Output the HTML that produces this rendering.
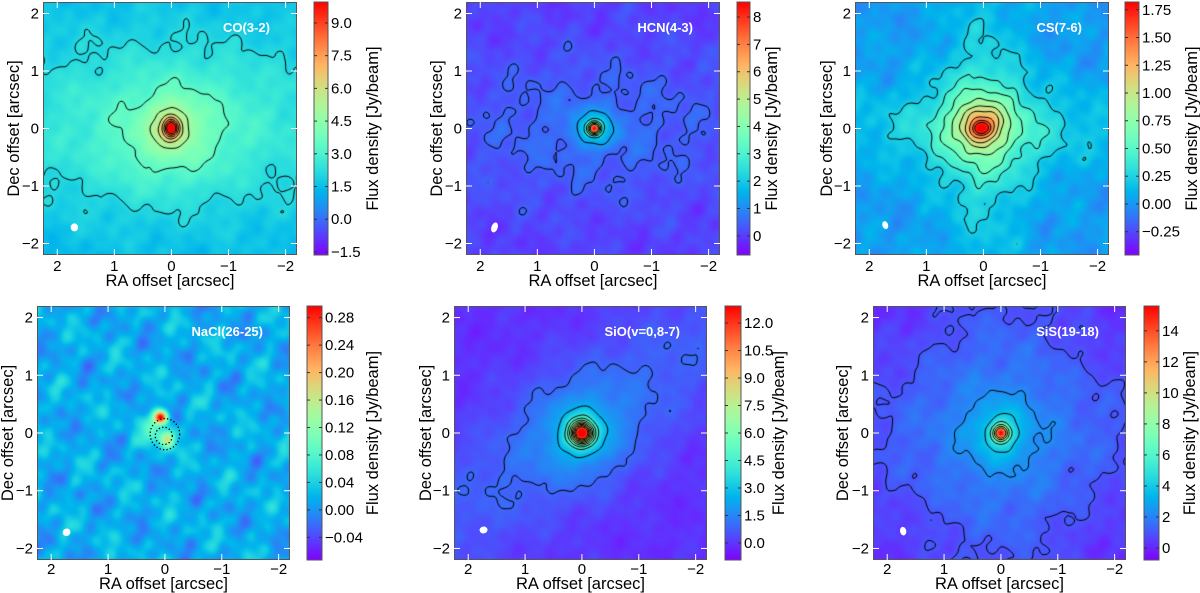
<!DOCTYPE html>
<html><head><meta charset="utf-8">
<style>
html,body{margin:0;padding:0;background:#fff;}
#wrap{position:relative;width:1200px;height:593px;overflow:hidden;font-family:"Liberation Sans",sans-serif;}
canvas{position:absolute;}
svg{position:absolute;left:0;top:0;}
</style></head>
<body>
<div id="wrap">
<svg id="ov" width="1200" height="593"></svg>
</div>
<script>
// ---- data ----
const panelTitles = ["CO(3-2)","HCN(4-3)","CS(7-6)","NaCl(26-25)","SiO(v=0,8-7)","SiS(19-18)"];
const cbarMin = [-1.64,-0.7,-0.46,-0.073,-0.93,-0.77];
const cbarMax = [9.96,8.55,1.82,0.297,12.93,15.6];
const cbarTicks = [
 [-1.5,0,1.5,3,4.5,6,7.5,9],
 [0,1,2,3,4,5,6,7,8],
 [-0.25,0,0.25,0.5,0.75,1,1.25,1.5,1.75],
 [-0.04,0,0.04,0.08,0.12,0.16,0.2,0.24,0.28],
 [0,1.5,3,4.5,6,7.5,9,10.5,12],
 [0,2,4,6,8,10,12,14]];
const cbarTickLabels = [
 ["−1.5","0.0","1.5","3.0","4.5","6.0","7.5","9.0"],
 ["0","1","2","3","4","5","6","7","8"],
 ["−0.25","0.00","0.25","0.50","0.75","1.00","1.25","1.50","1.75"],
 ["−0.04","0.00","0.04","0.08","0.12","0.16","0.20","0.24","0.28"],
 ["0.0","1.5","3.0","4.5","6.0","7.5","9.0","10.5","12.0"],
 ["0","2","4","6","8","10","12","14"]];
const bgLevel = [1.3,0.0,0.02,0.015,-0.1,-0.1];
const noiseAmp = [0.35,0.3,0.1,0.035,0.3,0.45];
// components: [xArcsec, yArcsec, amplitude, sigmaX, sigmaY, rotationDeg]
const comps = [
 [[0,0.1,1.6,2.6,1.15,0],[0,-0.1,1.5,0.7,0.6,-20],[0,0.05,2.0,0.25,0.28,0],[0,0,4.5,0.08,0.1,0]],
 [[0,0,0.6,1.9,0.95,0],[0,0,1.6,0.26,0.22,0],[0,0,6.2,0.07,0.07,0]],
 [[0,0,0.2,0.5,2.4,0],[0,0,0.2,2.4,0.5,0],[0,0,0.35,0.7,0.7,0],[0.05,0.05,0.7,0.28,0.26,0],[0.05,0,0.5,0.11,0.09,0]],
 [[0.07,0.27,0.26,0.08,0.08,0],[-0.05,-0.12,0.12,0.09,0.1,0],[0.15,0.05,0.06,0.2,0.2,0]],
 [[0.05,0.1,1.1,3.2,0.8,-35],[0,0,1.3,0.6,0.6,0],[0,0,2.8,0.25,0.25,0],[0,0,9,0.12,0.12,0]],
 [[0,0,1.2,1.1,3.5,0],[0,0,1.2,3.5,1.1,0],[0,0,2.5,0.32,0.32,0],[0,0,11,0.09,0.09,0]]];
const contourLevels = [
 [2.1,3.4,5,5.8,6.6,7.4,8.2,9],
 [0.45,1.3,2.2,3.1,4,5,6],
 [0.22,0.38,0.55,0.75,0.95,1.1,1.3,1.5,1.65],
 [],
 [0.9,2.5,4,5,6,7,8,9,10,11],
 [1.0,2.3,3.8,5.5,7.5,9.5,11.5]];
// NaCl dotted contours: [xArcsec,yArcsec,radiusX,radiusY]
const dottedRings = [[0.0,-0.02,0.26,0.27],[0.02,-0.05,0.15,0.15]];
const beam = [[1.7,-1.72,0.065,0.07,0],[1.75,-1.72,0.055,0.09,20],[1.72,-1.68,0.05,0.07,-20],[1.73,-1.72,0.07,0.065,-40],[1.73,-1.68,0.07,0.06,-10],[1.72,-1.7,0.055,0.075,-10]];
const xTicks=[2,1,0,-1,-2], yTicks=[2,1,0,-1,-2];
const yTickLabels=["2","1","0","−1","−2"], xTickLabels=["2","1","0","−1","−2"];
// ---- layout ----
const L = [
 {px:43,py:2,pw:254,ph:253,cx:314,cw:14,yl:14,cl:373,row:0},
 {px:466,py:2,pw:254,ph:253,cx:737,cw:13,yl:437,cl:772,row:0},
 {px:855,py:2,pw:254,ph:253,cx:1125,cw:14,yl:827,cl:1192,row:0},
 {px:37,py:306,pw:253,ph:254,cx:307,cw:15,yl:8,cl:373,row:1},
 {px:454,py:306,pw:253,ph:254,cx:725,cw:16,yl:426,cl:779,row:1},
 {px:873,py:306,pw:253,ph:254,cx:1144,cw:15,yl:843,cl:1190,row:1}];
const xDom=[2.25,-2.2], yDom=[-2.2,2.2];
function rainbow(t){t=Math.max(0,Math.min(1,t));
 const r=Math.min(1,Math.abs(2*t-0.5)), g=Math.sin(Math.PI*t), b=Math.cos(Math.PI*t/2);
 return [Math.round(r*255),Math.round(g*255),Math.round(b*255)];}
const NS="http://www.w3.org/2000/svg", ov=document.getElementById('ov'), wrap=document.getElementById('wrap');
function mk(tag,attrs,parent){const e=document.createElementNS(NS,tag);for(const k in attrs)e.setAttribute(k,attrs[k]);(parent||ov).appendChild(e);return e;}
function noise(x,y,k){return Math.sin(7.3*x+2.1*y+k)*0.3+Math.sin(3.1*x-5.7*y+1.3*k)*0.3+Math.sin(11.7*x+9.3*y+0.7*k)*0.2+Math.sin(-13.1*x+15.9*y+2*k)*0.15+Math.sin(21*x+4*y+k*3)*0.12+Math.sin(5.3*x+17.2*y+k*4.1)*0.12+Math.sin(-9.4*x-6.6*y+k*2.3)*0.15;}
function field(i,x,y){let v=bgLevel[i]+noiseAmp[i]*noise(x,y,i*1.7);
 for(const c of comps[i]){const a=c[5]*Math.PI/180,dx=x-c[0],dy=y-c[1];
  const u=dx*Math.cos(a)+dy*Math.sin(a), w=-dx*Math.sin(a)+dy*Math.cos(a);
  v+=c[2]*Math.exp(-0.5*(u*u/(c[3]*c[3])+w*w/(c[4]*c[4])));}
 return v;}
L.forEach((p,i)=>{
 const sx=v=>p.px+(v-xDom[0])/(xDom[1]-xDom[0])*p.pw;
 const sy=v=>p.py+(yDom[1]-v)/(yDom[1]-yDom[0])*p.ph;
 const ax=px=>xDom[0]+(px)/p.pw*(xDom[1]-xDom[0]);
 const ay=py=>yDom[1]-(py)/p.ph*(yDom[1]-yDom[0]);
 const cv=document.createElement('canvas');cv.width=p.pw;cv.height=p.ph;
 cv.style.left=p.px+'px';cv.style.top=p.py+'px';
 
 
 wrap.insertBefore(cv,ov);
 const ctx=cv.getContext('2d'), img=ctx.createImageData(p.pw,p.ph);
 const mn=cbarMin[i],mx=cbarMax[i];
 for(let yy=0;yy<p.ph;yy++)for(let xx=0;xx<p.pw;xx++){
  const v=field(i,ax(xx+0.5),ay(yy+0.5)), c=rainbow((v-mn)/(mx-mn)), o=(yy*p.pw+xx)*4;
  img.data[o]=c[0];img.data[o+1]=c[1];img.data[o+2]=c[2];img.data[o+3]=255;}
 ctx.putImageData(img,0,0);
 const st=2,nx=Math.ceil(p.pw/st)+1,ny=Math.ceil(p.ph/st)+1,G=[];
 for(let j=0;j<ny;j++){G[j]=[];for(let k=0;k<nx;k++)G[j][k]=field(i,ax(k*st),ay(j*st));}
 ctx.strokeStyle='#000';ctx.lineWidth=1;
 contourLevels[i].forEach(lv=>{ctx.beginPath();
  for(let j=0;j<ny-1;j++)for(let k=0;k<nx-1;k++){
   const a=G[j][k],b=G[j][k+1],c=G[j+1][k+1],d=G[j+1][k];const pts=[];
   const ed=(v1,v2,x1,y1,x2,y2)=>{if((v1-lv)*(v2-lv)<0){const t=(lv-v1)/(v2-v1);pts.push([x1+(x2-x1)*t,y1+(y2-y1)*t]);}};
   const X=k*st,Y=j*st;
   ed(a,b,X,Y,X+st,Y);ed(b,c,X+st,Y,X+st,Y+st);ed(c,d,X+st,Y+st,X,Y+st);ed(d,a,X,Y+st,X,Y);
   for(let q=0;q+1<pts.length;q+=2){ctx.moveTo(pts[q][0],pts[q][1]);ctx.lineTo(pts[q+1][0],pts[q+1][1]);}
  }ctx.stroke();});
 const g=mk('g',{});
 if(i===3){dottedRings.forEach(r=>{const e=mk('ellipse',{cx:sx(r[0]),cy:sy(r[1]),rx:r[2]*p.pw/4.45,ry:r[3]*p.ph/4.4,fill:'none',stroke:'#000','stroke-width':1.3,'stroke-dasharray':'1.3 2.2'},g);
  });}
 const b=beam[i];const be=mk('ellipse',{cx:sx(b[0]),cy:sy(b[1]),rx:b[2]*p.pw/4.45,ry:b[3]*p.ph/4.4,fill:'#fff',transform:`rotate(${b[4]} ${sx(b[0])} ${sy(b[1])})`},g);
 
 const fr=mk('rect',{x:p.px+0.5,y:p.py+0.5,width:p.pw-1,height:p.ph-1,fill:'none',stroke:'#555','stroke-width':1},g);
 
 const tickY=p.row?p.py+p.ph+14:p.py+p.ph+16;
 xTicks.forEach((t,k)=>{const X=sx(t);
  mk('line',{x1:X,y1:p.py,x2:X,y2:p.py+6,stroke:'#fff','stroke-width':1},g);
  mk('line',{x1:X,y1:p.py+p.ph,x2:X,y2:p.py+p.ph-6,stroke:'#fff','stroke-width':1},g);
  const tx=mk('text',{x:X,y:tickY,'font-size':15,'text-anchor':'middle',fill:'#000'},g);tx.textContent=xTickLabels[k];
  });
 yTicks.forEach((t,k)=>{const Y=sy(t);
  mk('line',{x1:p.px,y1:Y,x2:p.px+6,y2:Y,stroke:'#fff','stroke-width':1},g);
  mk('line',{x1:p.px+p.pw,y1:Y,x2:p.px+p.pw-6,y2:Y,stroke:'#fff','stroke-width':1},g);
  const tx=mk('text',{x:p.px-4,y:Y+5,'font-size':15,'text-anchor':'end',fill:'#000'},g);tx.textContent=yTickLabels[k];
  });
 const xl=mk('text',{x:p.px+p.pw/2,y:p.row?589:286,'font-size':16.5,'text-anchor':'middle'},g);xl.textContent='RA offset [arcsec]';
 
 const yc=p.py+p.ph/2;
 const yl=mk('text',{x:p.yl,y:yc,'font-size':16.5,'text-anchor':'middle','dominant-baseline':'central',transform:`rotate(-90 ${p.yl} ${yc})`},g);yl.textContent='Dec offset [arcsec]';
 
 const tt=mk('text',{x:p.px+p.pw-27,y:p.py+30,'font-size':13,'font-weight':'bold','text-anchor':'end',fill:'#fff'},g);tt.textContent=panelTitles[i];
 
 const gid='cg'+i;const defs=mk('defs',{},g);const lg=mk('linearGradient',{id:gid,x1:0,y1:1,x2:0,y2:0},defs);
 for(let s=0;s<=20;s++){const c=rainbow(s/20);mk('stop',{offset:s/20,'stop-color':`rgb(${c})`},lg);}
 const cb=mk('rect',{x:p.cx,y:p.py,width:p.cw,height:p.ph,fill:`url(#${gid})`,stroke:'#555','stroke-width':1},g);
 
 const cy=v=>p.py+p.ph-(v-mn)/(mx-mn)*p.ph;
 cbarTicks[i].forEach((t,k)=>{const Y=cy(t);
  mk('line',{x1:p.cx,y1:Y,x2:p.cx+3,y2:Y,stroke:'#333','stroke-width':1},g);
  mk('line',{x1:p.cx+p.cw,y1:Y,x2:p.cx+p.cw-3,y2:Y,stroke:'#333','stroke-width':1},g);
  const tx=mk('text',{x:p.cx+p.cw+3,y:Y+5,'font-size':15,fill:'#000'},g);tx.textContent=cbarTickLabels[i][k];
  });
 const cl=mk('text',{x:p.cl,y:yc,'font-size':16.5,'text-anchor':'middle','dominant-baseline':'central',transform:`rotate(-90 ${p.cl} ${yc})`},g);cl.textContent='Flux density [Jy/beam]';
 
});
</script>
</body></html>
